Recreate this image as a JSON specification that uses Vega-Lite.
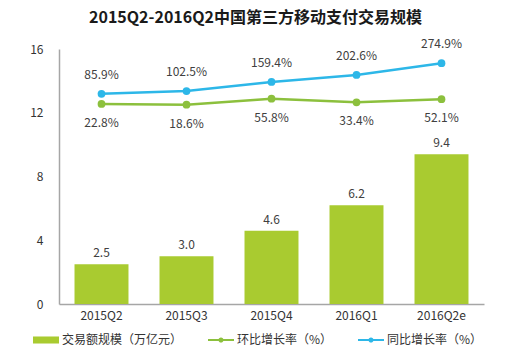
{
  "$schema": "https://vega.github.io/schema/vega-lite/v6.json",
  "autosize": {"type": "none"},
  "width": 425,
  "height": 255,
  "padding": {"left": 59, "top": 49, "right": 22, "bottom": 47},
  "background": "white",
  "config": {
    "view": {"stroke": null},
    "font": "Noto Sans CJK SC",
    "axis": {"labelFont": "Noto Sans CJK SC", "labelColor": "#333333", "labelFontSize": 12, "grid": false, "ticks": false, "domainColor": "#a6a6a6", "domainWidth": 1.5},
    "legend": {"symbolOpacity": 1, "symbolStrokeWidth": 0}
  },
  "title": {"text": "2015Q2-2016Q2中国第三方移动支付交易规模", "fontSize": 16, "fontWeight": "bold", "color": "#1a1a1a", "font": "Noto Sans CJK SC", "anchor": "middle", "dx": -16, "offset": 12},
  "data": {"values": [
    {"q": "2015Q2", "series": "交易额规模（万亿元）", "value": 2.5},
    {"q": "2015Q3", "series": "交易额规模（万亿元）", "value": 3.0},
    {"q": "2015Q4", "series": "交易额规模（万亿元）", "value": 4.6},
    {"q": "2016Q1", "series": "交易额规模（万亿元）", "value": 6.2},
    {"q": "2016Q2e", "series": "交易额规模（万亿元）", "value": 9.4},
    {"q": "2015Q2", "series": "环比增长率（%）", "value": 0.228},
    {"q": "2015Q3", "series": "环比增长率（%）", "value": 0.186},
    {"q": "2015Q4", "series": "环比增长率（%）", "value": 0.558},
    {"q": "2016Q1", "series": "环比增长率（%）", "value": 0.334},
    {"q": "2016Q2e", "series": "环比增长率（%）", "value": 0.521},
    {"q": "2015Q2", "series": "同比增长率（%）", "value": 0.859},
    {"q": "2015Q3", "series": "同比增长率（%）", "value": 1.025},
    {"q": "2015Q4", "series": "同比增长率（%）", "value": 1.594},
    {"q": "2016Q1", "series": "同比增长率（%）", "value": 2.026},
    {"q": "2016Q2e", "series": "同比增长率（%）", "value": 2.749}
  ]},
  "encoding": {
    "x": {"field": "q", "type": "nominal", "sort": null, "title": null,
      "scale": {"paddingInner": 0.365, "paddingOuter": 0.1825},
      "axis": {"labelAngle": 0, "labelPadding": 6}}
  },
  "layer": [
    {
      "transform": [{"filter": "datum.series === '交易额规模（万亿元）'"}],
      "encoding": {
        "y": {"field": "value", "type": "quantitative", "title": null,
          "scale": {"domain": [0, 16], "nice": false},
          "axis": {"values": [0, 4, 8, 12, 16], "labelPadding": 16, "format": "d"}}
      },
      "layer": [
        {"mark": {"type": "bar", "color": "#a9cb30"}},
        {"mark": {"type": "text", "dy": -11, "baseline": "middle", "fontSize": 12, "color": "#404040"},
          "encoding": {"text": {"field": "value", "type": "quantitative", "format": ".1f"}}}
      ]
    },
    {
      "encoding": {
        "y": {"field": "value", "type": "quantitative", "title": null,
          "scale": {"domain": [-12.15, 3.63], "nice": false, "zero": false},
          "axis": null}
      },
      "layer": [
        {"transform": [{"filter": "datum.series === '环比增长率（%）'"}],
          "mark": {"type": "line", "color": "#8cc03d", "strokeWidth": 2.5}},
        {"transform": [{"filter": "datum.series === '环比增长率（%）'"}],
          "mark": {"type": "point", "filled": true, "opacity": 1, "size": 60, "color": "#8cc03d"}},
        {"transform": [{"filter": "datum.series === '环比增长率（%）'"}],
          "mark": {"type": "text", "dy": 19, "baseline": "middle", "fontSize": 12, "color": "#404040"},
          "encoding": {"text": {"field": "value", "type": "quantitative", "format": ".1%"}}},
        {"transform": [{"filter": "datum.series === '同比增长率（%）'"}],
          "mark": {"type": "line", "color": "#2db7e8", "strokeWidth": 2.5}},
        {"transform": [{"filter": "datum.series === '同比增长率（%）'"}],
          "mark": {"type": "point", "filled": true, "opacity": 1, "size": 60, "color": "#2db7e8"}},
        {"transform": [{"filter": "datum.series === '同比增长率（%）'"}],
          "mark": {"type": "text", "dy": -19, "baseline": "middle", "fontSize": 12, "color": "#404040"},
          "encoding": {"text": {"field": "value", "type": "quantitative", "format": ".1%"}}},
        {"transform": [{"filter": "datum.series === '同比增长率（%）'"}],
          "mark": {"type": "point", "filled": true, "opacity": 0},
          "encoding": {
            "color": {"field": "series", "type": "nominal",
              "scale": {"domain": ["交易额规模（万亿元）", "环比增长率（%）", "同比增长率（%）"], "range": ["#a9cb30", "#8cc03d", "#2db7e8"]},
              "legend": {"title": null, "orient": "none", "legendX": -26, "legendY": 278, "direction": "horizontal", "symbolSize": 676, "labelFontSize": 12, "labelColor": "#333333", "labelFont": "Noto Sans CJK SC", "columnPadding": 25, "labelOffset": 3}},
            "shape": {"field": "series", "type": "nominal",
              "scale": {"domain": ["交易额规模（万亿元）", "环比增长率（%）", "同比增长率（%）"],
                "range": ["M-1,-0.27H1V0.27H-1Z", "M-1,-0.08H1V0.08H-1Z M-0.2,0A0.2,0.2 0 1 1 0.2,0A0.2,0.2 0 1 1 -0.2,0Z", "M-1,-0.08H1V0.08H-1Z M-0.2,0A0.2,0.2 0 1 1 0.2,0A0.2,0.2 0 1 1 -0.2,0Z"]},
              "legend": {"title": null, "orient": "none", "legendX": -26, "legendY": 278, "direction": "horizontal", "symbolSize": 676, "labelFontSize": 12, "labelColor": "#333333", "labelFont": "Noto Sans CJK SC", "columnPadding": 25, "labelOffset": 3}}
          }}
      ]
    }
  ],
  "resolve": {"scale": {"y": "independent"}}
}
